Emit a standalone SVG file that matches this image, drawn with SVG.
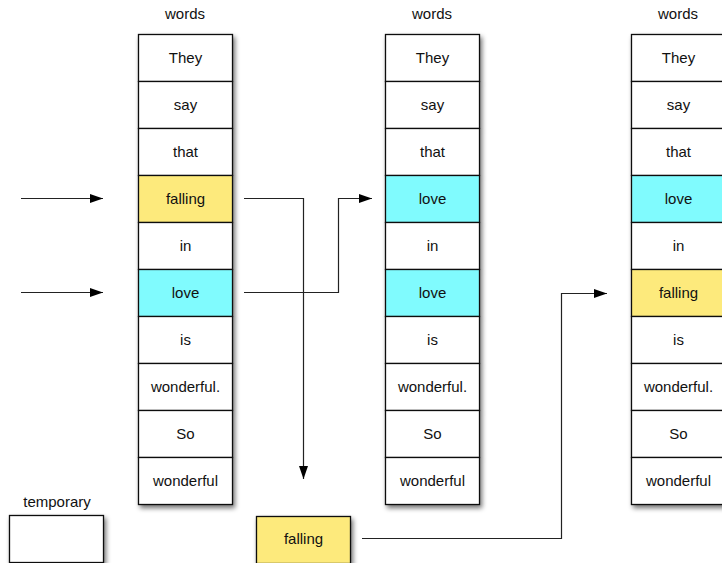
<svg xmlns="http://www.w3.org/2000/svg" width="722" height="563" viewBox="0 0 722 563">
<style>
text{font-family:"Liberation Sans",Arial,sans-serif;font-size:15px;fill:#111;text-anchor:middle;dominant-baseline:central}
.c{fill:#fff;stroke:#111;stroke-width:1.3}
.y{fill:#fdea7c}
.b{fill:#80fbfe}
.col{filter:url(#sh)}
.ln{fill:none;stroke:#222;stroke-width:1.2}
</style>
<defs>
<filter id="sh" x="-20%" y="-10%" width="150%" height="130%">
<feGaussianBlur in="SourceAlpha" stdDeviation="2.5"/>
<feOffset dx="2" dy="3" result="o"/>
<feComponentTransfer><feFuncA type="linear" slope="0.55"/></feComponentTransfer>
<feMerge><feMergeNode/><feMergeNode in="SourceGraphic"/></feMerge>
</filter>
<marker id="ah" markerWidth="13" markerHeight="10" refX="13" refY="5" orient="auto" markerUnits="userSpaceOnUse">
<path d="M0,0.5 L13,5 L0,9.5 Z" fill="#000"/>
</marker>
</defs>

<g id="col1">
<text x="185" y="13">words</text>
<g class="col">
<rect class="c" x="138.5" y="34.5" width="94" height="47"/>
<rect class="c" x="138.5" y="81.5" width="94" height="47"/>
<rect class="c" x="138.5" y="128.5" width="94" height="47"/>
<rect class="c y" x="138.5" y="175.5" width="94" height="47"/>
<rect class="c" x="138.5" y="222.5" width="94" height="47"/>
<rect class="c b" x="138.5" y="269.5" width="94" height="47"/>
<rect class="c" x="138.5" y="316.5" width="94" height="47"/>
<rect class="c" x="138.5" y="363.5" width="94" height="47"/>
<rect class="c" x="138.5" y="410.5" width="94" height="47"/>
<rect class="c" x="138.5" y="457.5" width="94" height="47"/>
</g>
<text x="185.5" y="57">They</text>
<text x="185.5" y="104">say</text>
<text x="185.5" y="151">that</text>
<text x="185.5" y="198">falling</text>
<text x="185.5" y="245">in</text>
<text x="185.5" y="292">love</text>
<text x="185.5" y="339">is</text>
<text x="185.5" y="386">wonderful.</text>
<text x="185.5" y="433">So</text>
<text x="185.5" y="480">wonderful</text>
</g>

<g id="col2">
<text x="432" y="13">words</text>
<g class="col">
<rect class="c" x="385.5" y="34.5" width="94" height="47"/>
<rect class="c" x="385.5" y="81.5" width="94" height="47"/>
<rect class="c" x="385.5" y="128.5" width="94" height="47"/>
<rect class="c b" x="385.5" y="175.5" width="94" height="47"/>
<rect class="c" x="385.5" y="222.5" width="94" height="47"/>
<rect class="c b" x="385.5" y="269.5" width="94" height="47"/>
<rect class="c" x="385.5" y="316.5" width="94" height="47"/>
<rect class="c" x="385.5" y="363.5" width="94" height="47"/>
<rect class="c" x="385.5" y="410.5" width="94" height="47"/>
<rect class="c" x="385.5" y="457.5" width="94" height="47"/>
</g>
<text x="432.5" y="57">They</text>
<text x="432.5" y="104">say</text>
<text x="432.5" y="151">that</text>
<text x="432.5" y="198">love</text>
<text x="432.5" y="245">in</text>
<text x="432.5" y="292">love</text>
<text x="432.5" y="339">is</text>
<text x="432.5" y="386">wonderful.</text>
<text x="432.5" y="433">So</text>
<text x="432.5" y="480">wonderful</text>
</g>

<g id="col3">
<text x="678" y="13">words</text>
<g class="col">
<rect class="c" x="631.5" y="34.5" width="94" height="47"/>
<rect class="c" x="631.5" y="81.5" width="94" height="47"/>
<rect class="c" x="631.5" y="128.5" width="94" height="47"/>
<rect class="c b" x="631.5" y="175.5" width="94" height="47"/>
<rect class="c" x="631.5" y="222.5" width="94" height="47"/>
<rect class="c y" x="631.5" y="269.5" width="94" height="47"/>
<rect class="c" x="631.5" y="316.5" width="94" height="47"/>
<rect class="c" x="631.5" y="363.5" width="94" height="47"/>
<rect class="c" x="631.5" y="410.5" width="94" height="47"/>
<rect class="c" x="631.5" y="457.5" width="94" height="47"/>
</g>
<text x="678.5" y="57">They</text>
<text x="678.5" y="104">say</text>
<text x="678.5" y="151">that</text>
<text x="678.5" y="198">love</text>
<text x="678.5" y="245">in</text>
<text x="678.5" y="292">falling</text>
<text x="678.5" y="339">is</text>
<text x="678.5" y="386">wonderful.</text>
<text x="678.5" y="433">So</text>
<text x="678.5" y="480">wonderful</text>
</g>

<g id="temporary">
<text x="57" y="501">temporary</text>
<rect class="c col" x="9.5" y="515.5" width="94" height="47"/>
</g>

<g id="tempFalling">
<rect class="c y col" x="256.5" y="516.5" width="94" height="47"/>
<text x="303.5" y="538">falling</text>
</g>

<g id="connectors">
<path class="ln" d="M21,198.5 H103" marker-end="url(#ah)"/>
<path class="ln" d="M21,292.5 H103" marker-end="url(#ah)"/>
<path class="ln" d="M244,198.5 H303.5 V479" marker-end="url(#ah)"/>
<path class="ln" d="M244,292.5 H338.5 V198.5 H372" marker-end="url(#ah)"/>
<path class="ln" d="M362,538.5 H561.5 V293.5 H607" marker-end="url(#ah)"/>
</g>
</svg>
